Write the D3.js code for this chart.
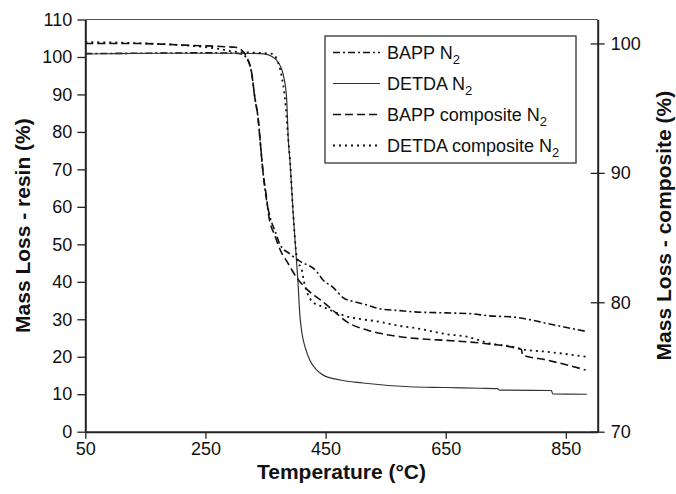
<!DOCTYPE html>
<html>
<head>
<meta charset="utf-8">
<script src="https://cdn.jsdelivr.net/npm/d3@7"></script>
<style>
  body { margin: 0; background: #fff; }
  svg { font-family: "Liberation Sans", Arial, sans-serif; }
</style>
</head>
<body>
<svg id="chart" width="676" height="494"></svg>
<script>
// TGA curves: [temperature °C, mass %]
// resin curves use the left axis, composite curves the right one
const bappResin = [[50,100.9],[150,101],[250,101.1],[300,101],[310,100.8],[318,99.8],[327,95.6],[332,89.3],[338,83.1],[341,77.8],[346,69],[352,61.5],[358,57],[366,53.5],[374,50],[390,47.5],[407,45.5],[435,42.8],[445,40.6],[462,38.6],[479,35.8],[500,34.6],[519,33.8],[540,32.8],[574,32.3],[595,32.0],[650,31.7],[690,31.5],[723,30.9],[762,30.6],[790,29.9],[818,28.9],[845,28.0],[886,26.7]];
const detdaResin = [[50,100.8],[100,100.9],[200,101],[300,101],[340,100.9],[352,100.7],[362,100],[371,98.6],[379,95.6],[385,89.3],[388,77.8],[391,71.7],[396,58.3],[401,47],[404,40],[407,31.5],[411,26],[416,22.5],[424,19],[435,16.5],[446,15.1],[474,13.8],[512,13],[590,12],[650,11.8],[706,11.6],[736,11.5],[740,11.1],[826,11],[828,10.1],[885,10]];
const bappComposite = [[50,100.0],[120,100.0],[177,99.95],[216,99.87],[282,99.75],[300,99.7],[310,99.5],[318,99.0],[327,97.7],[332,95.9],[338,94.1],[341,92.5],[346,90.0],[352,88.0],[355,86.8],[366,85.1],[377,83.8],[385,83.2],[402,81.9],[419,81.0],[435,80.4],[441,80.2],[468,79.15],[485,78.5],[519,77.86],[540,77.6],[574,77.34],[604,77.19],[660,77.03],[718,76.8],[768,76.45],[776,76.35],[778,75.93],[818,75.54],[883,74.77]];
const detdaComposite = [[50,100.1],[120,100.05],[177,99.95],[216,99.85],[270,99.6],[298,99.37],[325,99.3],[361,99.2],[368,98.86],[377,97.43],[382,95.9],[388,92.5],[391,90.8],[396,86.9],[402,83.5],[404,83.1],[410,82.6],[414,81.6],[419,80.8],[429,80.0],[445,79.66],[479,79.0],[545,78.45],[574,78.17],[595,78.04],[652,77.53],[685,77.34],[723,76.83],[768,76.5],[778,76.37],[818,76.18],[883,75.8]];

const xTicks = [50, 250, 450, 650, 850];
const leftTicks = d3.range(0, 111, 10);
const rightTicks = [70, 80, 90, 100];

const seriesNames = ["BAPP", "DETDA", "BAPP composite", "DETDA composite"];

const plotLeft = 85.3, plotRight = 597.7, plotTop = 19.5, plotBottom = 431.7;

const svg = d3.select("#chart");

const x = d3.scaleLinear().domain([50, 903]).range([plotLeft, plotRight]);
const yL = d3.scaleLinear().domain([0, 110]).range([plotBottom, plotTop]);
const yR = d3.scaleLinear().domain([70, 101.85]).range([plotBottom, plotTop]);

// top border of the plot box
svg.append("line")
  .attr("x1", plotLeft).attr("x2", plotRight)
  .attr("y1", plotTop).attr("y2", plotTop)
  .attr("stroke", "#555").attr("stroke-width", 1.2);

// axes
const xAxisG = svg.append("g")
  .attr("transform", `translate(0,${plotBottom})`)
  .call(d3.axisBottom(x).tickValues(xTicks).tickSize(7).tickPadding(4).tickSizeOuter(0));

const yAxisG = svg.append("g")
  .attr("transform", `translate(${plotLeft},0)`)
  .call(d3.axisLeft(yL).tickValues(leftTicks).tickSize(8).tickPadding(5).tickSizeOuter(0));

const yRAxisG = svg.append("g")
  .attr("transform", `translate(${plotRight},0)`)
  .call(d3.axisRight(yR).tickValues(rightTicks).tickSize(7).tickPadding(6).tickSizeOuter(0));

// right ticks cross the axis line
yRAxisG.selectAll(".tick line").attr("x1", -7);

[xAxisG, yAxisG, yRAxisG].forEach(g => {
  g.select(".domain").attr("stroke", "#222").attr("stroke-width", 2);
  g.selectAll(".tick line").attr("stroke", "#222").attr("stroke-width", 1.3);
  g.selectAll(".tick text").attr("font-size", 18).attr("fill", "#111")
    .attr("font-family", "Liberation Sans, Arial, sans-serif");
});

// curves
const lineL = d3.line().x(d => x(d[0])).y(d => yL(d[1])).curve(d3.curveMonotoneX);
const lineR = d3.line().x(d => x(d[0])).y(d => yR(d[1])).curve(d3.curveMonotoneX);

const styles = [
  { data: bappResin, gen: lineL, dash: "7,3,2,3", color: "#111", width: 1.6 },
  { data: detdaResin, gen: lineL, dash: null, color: "#333", width: 1.2 },
  { data: bappComposite, gen: lineR, dash: "8,4", color: "#111", width: 1.6 },
  { data: detdaComposite, gen: lineR, dash: "2,4", color: "#111", width: 1.8 }
];

styles.forEach(s => {
  svg.append("path")
    .datum(s.data)
    .attr("d", s.gen)
    .attr("fill", "none")
    .attr("stroke", s.color)
    .attr("stroke-width", s.width)
    .attr("stroke-dasharray", s.dash);
});

// legend
const legend = svg.append("g");
legend.append("rect")
  .attr("x", 325).attr("y", 36)
  .attr("width", 251).attr("height", 127)
  .attr("fill", "#fff").attr("stroke", "#333").attr("stroke-width", 1.3);

const rowY = [52.5, 83.5, 114.5, 145.5];
styles.forEach((s, i) => {
  legend.append("line")
    .attr("x1", 333).attr("x2", 380)
    .attr("y1", rowY[i]).attr("y2", rowY[i])
    .attr("stroke", s.color).attr("stroke-width", s.width)
    .attr("stroke-dasharray", s.dash);
  const t = legend.append("text")
    .attr("x", 387).attr("y", rowY[i] + 6.5)
    .attr("font-size", 18).attr("fill", "#111");
  t.append("tspan").text(seriesNames[i] + " N");
  t.append("tspan").attr("dy", 5).attr("font-size", 13).text("2");
});

// axis titles
svg.append("text")
  .attr("transform", `translate(30,${(plotTop + plotBottom) / 2}) rotate(-90)`)
  .attr("text-anchor", "middle")
  .attr("font-size", 21).attr("font-weight", "bold").attr("fill", "#111")
  .text("Mass Loss - resin (%)");

svg.append("text")
  .attr("transform", `translate(671,${(plotTop + plotBottom) / 2}) rotate(-90)`)
  .attr("text-anchor", "middle")
  .attr("font-size", 21).attr("font-weight", "bold").attr("fill", "#111")
  .text("Mass Loss - composite (%)");

svg.append("text")
  .attr("x", (plotLeft + plotRight) / 2).attr("y", 479)
  .attr("text-anchor", "middle")
  .attr("font-size", 21).attr("font-weight", "bold").attr("fill", "#111")
  .text("Temperature (°C)");
</script>
</body>
</html>
